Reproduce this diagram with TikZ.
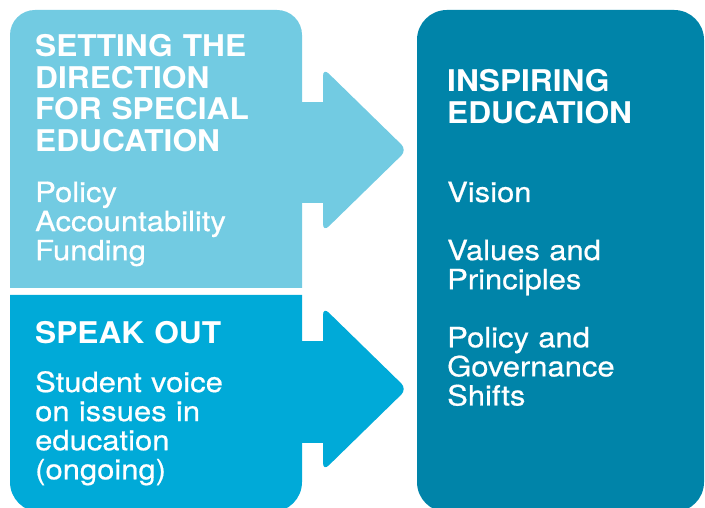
\documentclass[tikz,border=0pt]{standalone}
\usepackage{fontspec}
\setmainfont{TeX Gyre Heros}[FakeStretch=1.06]
\newfontfamily\bodyfont{TeX Gyre Heros}[FakeStretch=1.11, FakeBold=0.6]
\usepackage{tikz}
\usetikzlibrary{positioning}

\definecolor{setblue}{RGB}{114,203,226}
\definecolor{speakblue}{RGB}{0,170,216}
\definecolor{inspblue}{RGB}{0,132,169}

\tikzset{
  title/.style={anchor=base west, inner sep=0pt, text width=265bp, align=left,
    text=white, font=\bfseries\fontsize{30}{31.6}\selectfont},
  body/.style={anchor=base west, inner sep=0pt, text width=265bp, align=left,
    text=white, font=\bodyfont\fontsize{28}{29.2}\selectfont}
}

\begin{document}
\begin{tikzpicture}[x=1bp,y=1bp]
    \useasboundingbox (0,0) rectangle (705,508);
    \clip (0,0) rectangle (705,508);
    % boxes
    \fill[setblue] (10,220) -- (10,473) arc[start angle=180, end angle=90, radius=25]
      -- (277,498) arc[start angle=90, end angle=0, radius=25] -- (302,220) -- cycle;
    \fill[speakblue] (10,213) -- (10,26) arc[start angle=180, end angle=270, radius=30]
      -- (272,-4) arc[start angle=270, end angle=360, radius=30] -- (302,213) -- cycle;
    \fill[inspblue, rounded corners=30] (417,-4) rectangle (704,498);
    % arrows
    \fill[setblue] (296,305) rectangle (324,406);
    \fill[setblue, rounded corners=8] (323,440) -- (407,358) -- (323,276) -- cycle;
    \fill[speakblue] (296,65) rectangle (324,167);
    \fill[speakblue, rounded corners=8] (323,201) -- (407,119) -- (323,37) -- cycle;
    % texts
    \node[title] (settitle) at (35,451) {SETTING THE\\DIRECTION\\FOR SPECIAL\\EDUCATION};
    \node[body] (setbody) at (35,306) {Policy\\Accountability\\Funding};
    \node[title] (speaktitle) at (35,164) {SPEAK OUT};
    \node[body] (speakbody) at (35,116) {Student voice\\on issues in\\education\\(ongoing)};
    \node[title, text width=250bp] (insptitle) at (447,416) {INSPIRING\\EDUCATION};
    \node[body, text width=250bp] (inspbody) at (447,306)
      {Vision\\[29bp]Values and\\Principles\\[29bp]Policy and\\Governance\\Shifts};
\end{tikzpicture}
\end{document}
